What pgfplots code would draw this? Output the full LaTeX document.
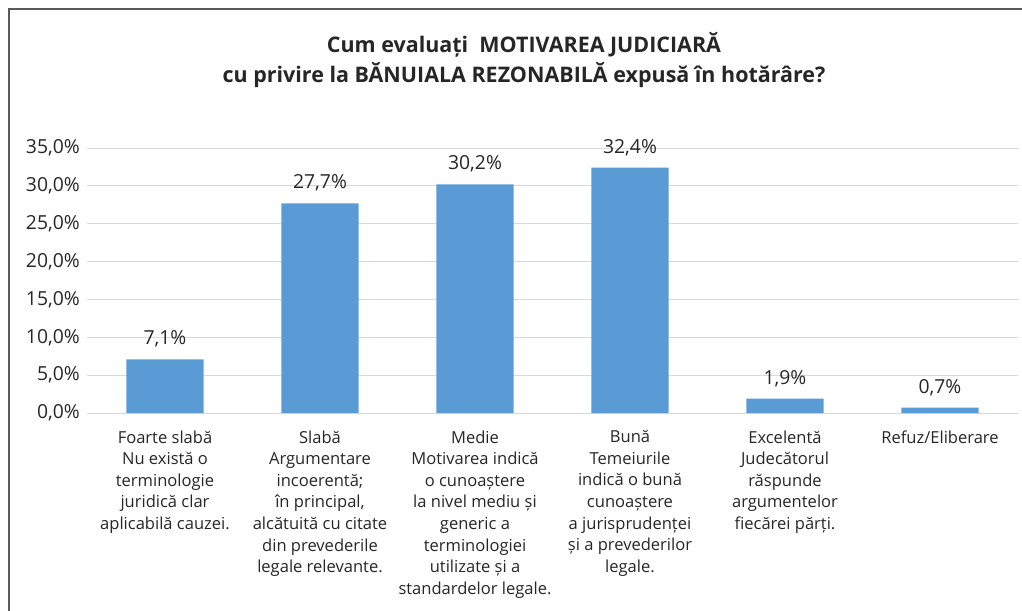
\documentclass[border=0pt]{standalone}
\usepackage{pgfplots}
\pgfplotsset{compat=1.18}
\usepackage{fontspec}
\setmainfont{Open Sans}
\definecolor{barblue}{HTML}{5B9BD5}
\definecolor{gridgray}{HTML}{D9D9D9}
\definecolor{txt}{HTML}{262626}
\definecolor{frame}{HTML}{595959}
\begin{document}
\begin{tikzpicture}
\clip (0pt,0pt) rectangle (766.5pt,-458.25pt);
\draw[line width=1.5pt, color=frame] (6.4pt,-6.9pt) rectangle (800pt,-500pt);
\node[font=\bfseries\fontsize{16.1}{22.5}\selectfont, align=center, text=txt] at (393pt,-45pt)
  {Cum evaluați\ \ MOTIVAREA JUDICIARĂ\\cu privire la BĂNUIALA REZONABILĂ expusă în hotărâre?};
\begin{axis}[
  at={(65.625pt,-309.75pt)}, anchor=south west,
  scale only axis, width=697.5pt, height=198.75pt,
  xmin=-0.5, xmax=5.5, ymin=0, ymax=35,
  ybar, bar width=57.75pt,
  ytick={0,5,10,15,20,25,30,35},
  yticklabels={{0,0\%},{5,0\%},{10,0\%},{15,0\%},{20,0\%},{25,0\%},{30,0\%},{35,0\%}},
  ymajorgrids, grid style={gridgray, line width=0.75pt},
  axis line style={draw=none}, major tick length=0pt,
  xtick={0,1,2,3,4,5},
  xticklabels={
    {Foarte slabă\\Nu există o\\terminologie\\juridică clar\\aplicabilă cauzei.},
    {Slabă\\Argumentare\\incoerentă;\\în principal,\\alcătuită cu citate\\din prevederile\\legale relevante.},
    {Medie\\Motivarea indică\\o cunoaștere\\la nivel mediu și\\generic a\\terminologiei\\utilizate și a\\standardelor legale.},
    {Bună\\Temeiurile\\indică o bună\\cunoaștere\\a jurisprudenței\\și a prevederilor\\legale.},
    {Excelentă\\Judecătorul\\răspunde\\argumentelor\\fiecărei părți.},
    {Refuz/Eliberare}},
  xticklabel style={align=center, anchor=north, inner sep=0pt, yshift=-13pt,
    font=\fontsize{12.4}{16.2}\selectfont, text=txt},
  yticklabel style={anchor=east, inner sep=0pt, xshift=-5.6pt,
    font=\fontsize{14.5}{16}\selectfont, text=txt},
  nodes near coords={\pgfmathprintnumber[fixed,fixed zerofill,precision=1,use comma,assume math mode=true]{\pgfplotspointmeta}\%},
  every node near coord/.append style={anchor=base, inner sep=0pt, yshift=10.8pt,
    font=\fontsize{14.5}{16}\selectfont, text=txt},
]
\addplot[fill=barblue, draw=none] coordinates {(0,7.1) (1,27.7) (2,30.2) (3,32.4) (4,1.9) (5,0.7)};
\end{axis}
\end{tikzpicture}
\end{document}
